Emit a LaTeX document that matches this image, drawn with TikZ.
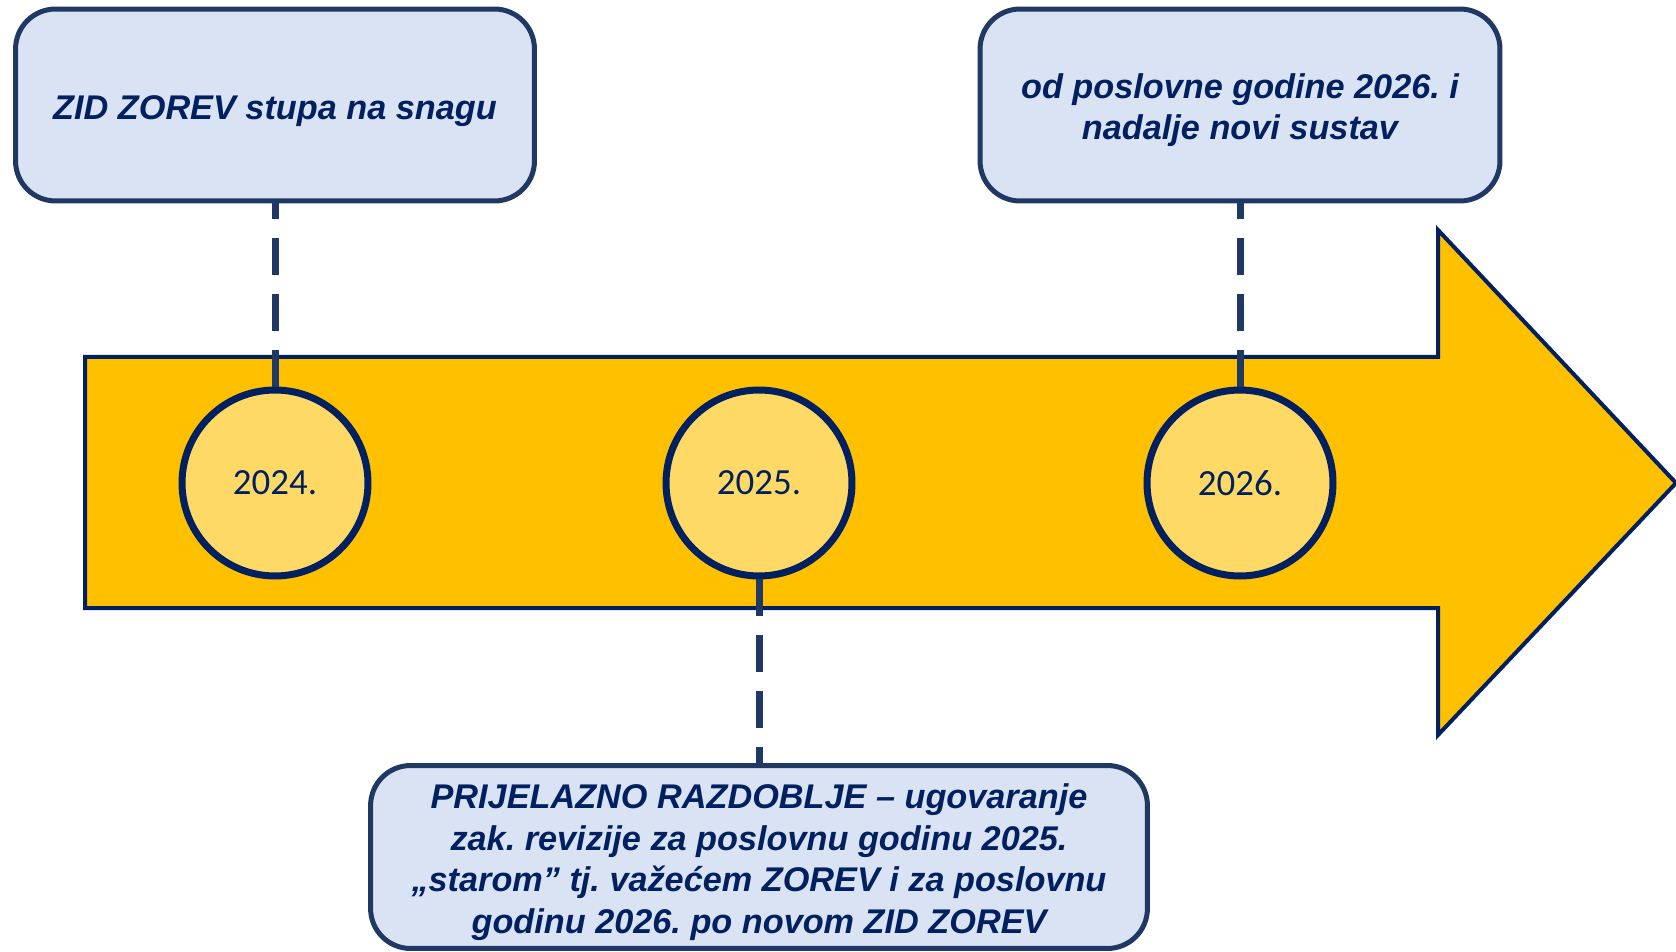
\documentclass[tikz,border=0pt]{standalone}
\usepackage{fontspec}
\setmainfont{Liberation Sans}
\newfontfamily\yearfont{Carlito}
\frenchspacing
\definecolor{navy}{HTML}{002060}
\definecolor{boxline}{HTML}{203864}
\definecolor{boxfill}{HTML}{DAE3F3}
\definecolor{gold}{HTML}{FFC000}
\definecolor{lightgold}{HTML}{FFD966}
% extra room above the first line of a box
\newcommand{\toproom}{\rule{0pt}{20pt}}

\begin{document}
\begin{tikzpicture}[x=0.02cm, y=-0.02cm,
    infobox/.style={draw=boxline, line width=0.1cm, fill=boxfill, rounded corners=0.8cm,
        text=navy, align=center, inner sep=0pt,
        font=\bfseries\itshape\fontsize{19.5}{23.6}\selectfont},
    yearcircle/.style={circle, draw=navy, line width=0.14cm, fill=lightgold, text=navy,
        minimum size=3.72cm, inner sep=0pt, font=\yearfont\fontsize{21}{25}\selectfont},
    dashline/.style={draw=boxline, line width=0.14cm, dash pattern=on 0.74cm off 0.38cm}]
        \useasboundingbox (0,0) rectangle (1676,952);
        % timeline arrow
        \draw [navy, line width=0.08cm, fill=gold] (85,357) -- (1438,357) -- (1438,230)
            -- (1676,483) -- (1438,735) -- (1438,608) -- (85,608) -- cycle;
        % milestones
        \foreach \yr/\x in {2024/275, 2025/759, 2026/1240}
            \node [yearcircle] (y\yr) at (\x, 483) {\yr.};
        \node [infobox, minimum width=10.38cm, minimum height=3.84cm] (enter) at (275, 105)
            {\toproom ZID ZOREV stupa na snagu};
        \node [infobox, minimum width=10.4cm, minimum height=3.84cm] (newsys) at (1240, 105)
            {\toproom od poslovne godine 2026. i\\nadalje novi sustav};
        \node [infobox, minimum width=15.54cm, minimum height=3.66cm] (transit) at (759, 857)
            {\toproom PRIJELAZNO RAZDOBLJE – ugovaranje\\zak. revizije za poslovnu godinu 2025.\\
             „starom” tj. važećem ZOREV i za poslovnu\\godinu 2026. po novom ZID ZOREV};
        % connectors
        \draw [dashline] (y2024.north) -- (enter.south);
        \draw [dashline] (y2026.north) -- (newsys.south);
        \draw [dashline] (y2025.south) -- (transit.north);
    \end{tikzpicture}
\end{document}
